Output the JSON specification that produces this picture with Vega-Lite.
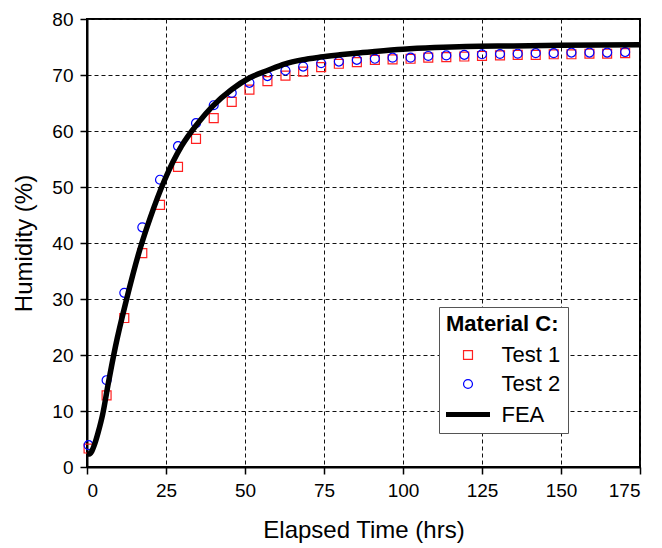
{
  "$schema": "https://vega.github.io/schema/vega-lite/v6.json",
  "autosize": {"type": "none"},
  "width": 553,
  "height": 448,
  "padding": {"left": 87, "top": 19, "right": 22, "bottom": 81},
  "config": {
    "font": "Liberation Sans",
    "view": {"stroke": "#000000", "strokeWidth": 2},
    "axis": {
      "domainColor": "#000000",
      "domainWidth": 2,
      "tickColor": "#000000",
      "tickWidth": 1.5,
      "tickSize": 7,
      "labelColor": "#000000",
      "labelFontSize": 19,
      "labelPadding": 7,
      "titleColor": "#000000",
      "titleFontSize": 24,
      "titleFontWeight": "normal",
      "gridColor": "#111111",
      "gridDash": [4, 3],
      "gridWidth": 1,
      "gridOpacity": 1
    }
  },
  "datasets": {
    "points": [
      {"time": 0.5, "humidity": 3.3, "series": "Test 1"},
      {"time": 6.2, "humidity": 12.8, "series": "Test 1"},
      {"time": 11.8, "humidity": 26.6, "series": "Test 1"},
      {"time": 17.5, "humidity": 38.2, "series": "Test 1"},
      {"time": 23.1, "humidity": 46.8, "series": "Test 1"},
      {"time": 28.8, "humidity": 53.6, "series": "Test 1"},
      {"time": 34.5, "humidity": 58.6, "series": "Test 1"},
      {"time": 40.1, "humidity": 62.3, "series": "Test 1"},
      {"time": 45.8, "humidity": 65.2, "series": "Test 1"},
      {"time": 51.4, "humidity": 67.4, "series": "Test 1"},
      {"time": 57.1, "humidity": 68.9, "series": "Test 1"},
      {"time": 62.8, "humidity": 69.9, "series": "Test 1"},
      {"time": 68.4, "humidity": 70.6, "series": "Test 1"},
      {"time": 74.1, "humidity": 71.4, "series": "Test 1"},
      {"time": 79.7, "humidity": 72.0, "series": "Test 1"},
      {"time": 85.4, "humidity": 72.3, "series": "Test 1"},
      {"time": 91.1, "humidity": 72.7, "series": "Test 1"},
      {"time": 96.7, "humidity": 72.8, "series": "Test 1"},
      {"time": 102.4, "humidity": 72.9, "series": "Test 1"},
      {"time": 108.0, "humidity": 73.1, "series": "Test 1"},
      {"time": 113.7, "humidity": 73.2, "series": "Test 1"},
      {"time": 119.4, "humidity": 73.3, "series": "Test 1"},
      {"time": 125.0, "humidity": 73.4, "series": "Test 1"},
      {"time": 130.7, "humidity": 73.5, "series": "Test 1"},
      {"time": 136.3, "humidity": 73.6, "series": "Test 1"},
      {"time": 142.0, "humidity": 73.6, "series": "Test 1"},
      {"time": 147.7, "humidity": 73.7, "series": "Test 1"},
      {"time": 153.3, "humidity": 73.7, "series": "Test 1"},
      {"time": 159.0, "humidity": 73.8, "series": "Test 1"},
      {"time": 164.6, "humidity": 73.8, "series": "Test 1"},
      {"time": 170.3, "humidity": 73.9, "series": "Test 1"},
      {"time": 0.5, "humidity": 3.9, "series": "Test 2"},
      {"time": 6.2, "humidity": 15.5, "series": "Test 2"},
      {"time": 11.8, "humidity": 31.1, "series": "Test 2"},
      {"time": 17.5, "humidity": 42.8, "series": "Test 2"},
      {"time": 23.1, "humidity": 51.3, "series": "Test 2"},
      {"time": 28.8, "humidity": 57.3, "series": "Test 2"},
      {"time": 34.5, "humidity": 61.4, "series": "Test 2"},
      {"time": 40.1, "humidity": 64.6, "series": "Test 2"},
      {"time": 45.8, "humidity": 66.8, "series": "Test 2"},
      {"time": 51.4, "humidity": 68.6, "series": "Test 2"},
      {"time": 57.1, "humidity": 69.8, "series": "Test 2"},
      {"time": 62.8, "humidity": 70.8, "series": "Test 2"},
      {"time": 68.4, "humidity": 71.5, "series": "Test 2"},
      {"time": 74.1, "humidity": 72.1, "series": "Test 2"},
      {"time": 79.7, "humidity": 72.4, "series": "Test 2"},
      {"time": 85.4, "humidity": 72.7, "series": "Test 2"},
      {"time": 91.1, "humidity": 72.9, "series": "Test 2"},
      {"time": 96.7, "humidity": 73.1, "series": "Test 2"},
      {"time": 102.4, "humidity": 73.1, "series": "Test 2"},
      {"time": 108.0, "humidity": 73.4, "series": "Test 2"},
      {"time": 113.7, "humidity": 73.5, "series": "Test 2"},
      {"time": 119.4, "humidity": 73.6, "series": "Test 2"},
      {"time": 125.0, "humidity": 73.7, "series": "Test 2"},
      {"time": 130.7, "humidity": 73.75, "series": "Test 2"},
      {"time": 136.3, "humidity": 73.8, "series": "Test 2"},
      {"time": 142.0, "humidity": 73.9, "series": "Test 2"},
      {"time": 147.7, "humidity": 73.9, "series": "Test 2"},
      {"time": 153.3, "humidity": 74.0, "series": "Test 2"},
      {"time": 159.0, "humidity": 74.0, "series": "Test 2"},
      {"time": 164.6, "humidity": 74.0, "series": "Test 2"},
      {"time": 170.3, "humidity": 74.1, "series": "Test 2"}
    ],
    "fea": [
      {"time": 0, "humidity": 2.3, "series": "FEA"},
      {"time": 0.8, "humidity": 2.3, "series": "FEA"},
      {"time": 1.5, "humidity": 2.8, "series": "FEA"},
      {"time": 2.5, "humidity": 4.2, "series": "FEA"},
      {"time": 3.5, "humidity": 6.1, "series": "FEA"},
      {"time": 5.0, "humidity": 9.5, "series": "FEA"},
      {"time": 6.6, "humidity": 14.5, "series": "FEA"},
      {"time": 9.0, "humidity": 21.5, "series": "FEA"},
      {"time": 12.5, "humidity": 29.9, "series": "FEA"},
      {"time": 16.7, "humidity": 38.8, "series": "FEA"},
      {"time": 20.0, "humidity": 44.5, "series": "FEA"},
      {"time": 24.6, "humidity": 51.3, "series": "FEA"},
      {"time": 29.9, "humidity": 57.3, "series": "FEA"},
      {"time": 35.1, "humidity": 61.4, "series": "FEA"},
      {"time": 39.7, "humidity": 64.4, "series": "FEA"},
      {"time": 45.8, "humidity": 67.4, "series": "FEA"},
      {"time": 51.5, "humidity": 69.5, "series": "FEA"},
      {"time": 57.1, "humidity": 70.8, "series": "FEA"},
      {"time": 62.7, "humidity": 72.0, "series": "FEA"},
      {"time": 68.0, "humidity": 72.7, "series": "FEA"},
      {"time": 73.9, "humidity": 73.2, "series": "FEA"},
      {"time": 80.0, "humidity": 73.6, "series": "FEA"},
      {"time": 85.0, "humidity": 73.9, "series": "FEA"},
      {"time": 91.0, "humidity": 74.2, "series": "FEA"},
      {"time": 100.0, "humidity": 74.6, "series": "FEA"},
      {"time": 110.0, "humidity": 74.9, "series": "FEA"},
      {"time": 120.0, "humidity": 75.1, "series": "FEA"},
      {"time": 135.0, "humidity": 75.2, "series": "FEA"},
      {"time": 150.0, "humidity": 75.3, "series": "FEA"},
      {"time": 175.0, "humidity": 75.4, "series": "FEA"}
    ]
  },
  "layer": [
    {
      "data": {"name": "points"},
      "mark": {"type": "point", "filled": false, "opacity": 1},
      "encoding": {
        "x": {
          "field": "time", "type": "quantitative",
          "scale": {"domain": [0, 175], "nice": false, "zero": false},
          "axis": {
            "title": "Elapsed Time (hrs)",
            "values": [0, 12.5, 25, 37.5, 50, 62.5, 75, 87.5, 100, 112.5, 125, 137.5, 150, 162.5, 175],
            "labelExpr": "datum.value % 25 === 0 ? datum.label : ''",
            "titlePadding": 18,
            "grid": true
          }
        },
        "y": {
          "field": "humidity", "type": "quantitative",
          "scale": {"domain": [0, 80], "nice": false},
          "axis": {
            "title": "Humidity (%)",
            "values": [0, 5, 10, 15, 20, 25, 30, 35, 40, 45, 50, 55, 60, 65, 70, 75, 80],
            "labelExpr": "datum.value % 10 === 0 ? datum.label : ''",
            "titlePadding": 15,
            "grid": true
          }
        },
        "color": {
          "field": "series", "type": "nominal",
          "scale": {"domain": ["Test 1", "Test 2", "FEA"], "range": ["#ff2020", "#0000ff", "#000000"]},
          "legend": {
            "title": "Material C:",
            "orient": "none",
            "legendX": 352,
            "legendY": 288,
            "titleFontSize": 22,
            "titleFontWeight": "bold",
            "titleColor": "#000000",
            "titlePadding": 8,
            "labelFontSize": 22,
            "labelColor": "#000000",
            "labelOffset": 21,
            "symbolOffset": 9.5,
            "rowPadding": 7,
            "padding": 7,
            "fillColor": "#ffffff",
            "strokeColor": "#555555"
          }
        },
        "shape": {
          "field": "series", "type": "nominal",
          "scale": {"domain": ["Test 1", "Test 2", "FEA"], "range": ["square", "circle", "M-2.2,0H2.2"]},
          "legend": {"title": "Material C:"}
        },
        "size": {
          "field": "series", "type": "nominal",
          "scale": {"type": "ordinal", "domain": ["Test 1", "Test 2", "FEA"], "range": [80, 80, 400]},
          "legend": {"title": "Material C:"}
        },
        "strokeWidth": {
          "field": "series", "type": "nominal",
          "scale": {"type": "ordinal", "domain": ["Test 1", "Test 2", "FEA"], "range": [1.2, 1.2, 5]},
          "legend": {"title": "Material C:"}
        }
      }
    },
    {
      "data": {"name": "fea"},
      "mark": {"type": "line", "strokeWidth": 5.5, "interpolate": "monotone"},
      "encoding": {
        "x": {"field": "time", "type": "quantitative"},
        "y": {"field": "humidity", "type": "quantitative"},
        "color": {"field": "series", "type": "nominal", "legend": null}
      }
    }
  ]
}
